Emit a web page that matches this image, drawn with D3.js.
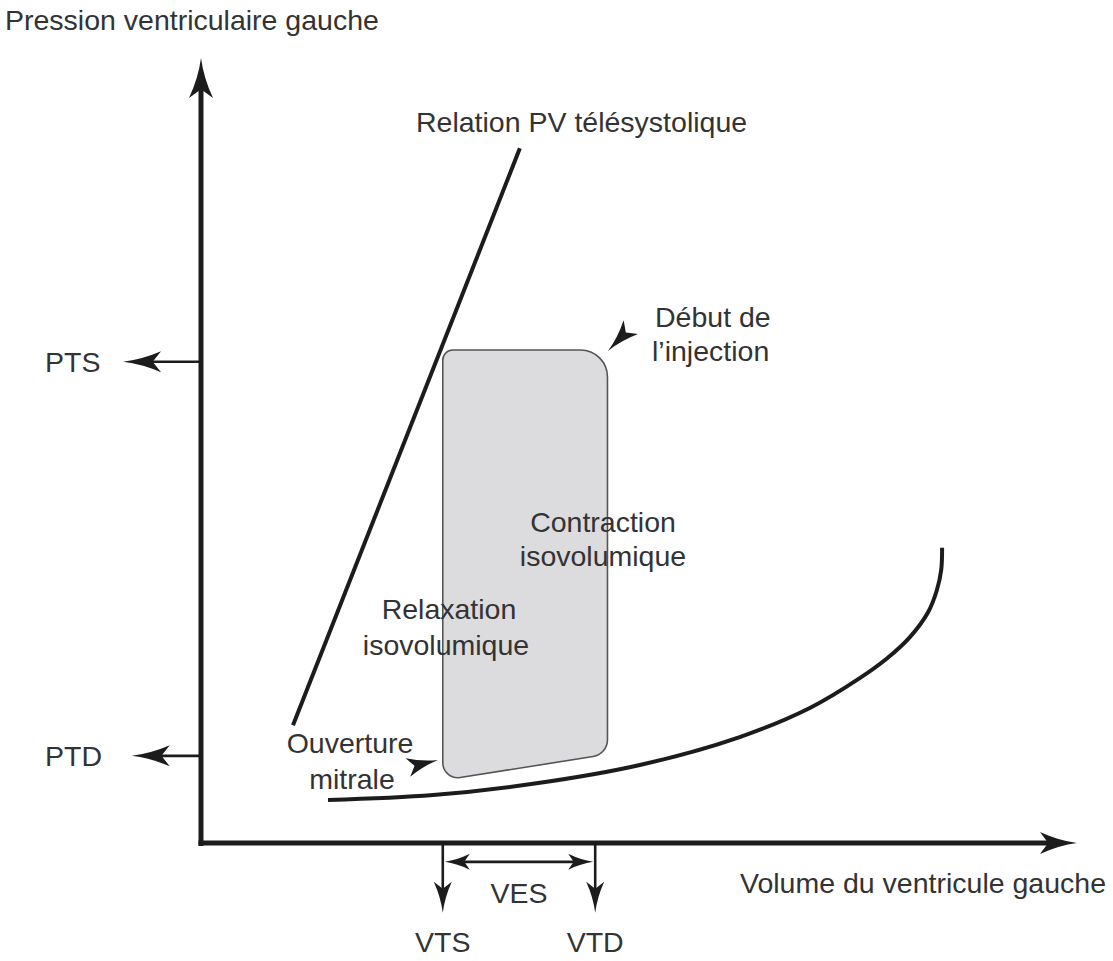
<!DOCTYPE html>
<html><head><meta charset="utf-8">
<script src="https://cdn.jsdelivr.net/npm/d3@7"></script>
<style>html,body{margin:0;padding:0;background:#fff;}svg{display:block;}</style>
</head><body>
<svg id="c" width="1113" height="961"></svg>
<script>
// ---- data (arbitrary units: volume 0..100, pressure 0..100) ----
const axisMax = {x: 100, y: 100};
// End-systolic pressure-volume relation (straight line)
const espvr = [[10.5, 15.0], [36.4, 88.5]];
// End-diastolic pressure-volume relation (curve)
const edpvrVol  = [14.5, 26.5, 38.5, 50.1, 61.5, 69.5, 75.2, 78.4, 80.9, 83.0, 84.0, 84.5, 84.6];
const edpvrPres = [5.48, 6.11, 7.64, 9.94, 13.5, 17.2, 21.0, 23.6, 26.2, 29.4, 32.2, 34.8, 37.6];
// Pressure-volume loop corners: top-left, top-right, bottom-right, bottom-left
const loopVol  = [27.6, 46.4, 46.4, 27.6];
const loopPres = [62.8, 62.8, 11.3, 8.0];
// Marked values
const pressureMarks = [{label: "PTS", y: 61.3, tip: -8.9}, {label: "PTD", y: 11.1, tip: -7.9}];
const volumeMarks = [{label: "VTS", x: 27.6}, {label: "VTD", x: 45.0}];
const vesY = -2.4, volTip = -8.9;

const x = d3.scaleLinear().domain([0, axisMax.x]).range([201, 1077]);
const y = d3.scaleLinear().domain([0, axisMax.y]).range([843, 58]);

const svg = d3.select("#c");
const ink = "#1c1c1c", txt = "#333";
const font = "'Liberation Sans', Arial, Helvetica, sans-serif";
const fs = 28.5;

function arrowHead(g, tx, ty, ang, L, Wd) {
  const p = d3.path();
  p.moveTo(0, 0);
  p.quadraticCurveTo(-0.5 * L, -0.22 * Wd, -L, -Wd);
  p.lineTo(-0.78 * L, 0);
  p.lineTo(-L, Wd);
  p.quadraticCurveTo(-0.5 * L, 0.22 * Wd, 0, 0);
  p.closePath();
  g.append("path").attr("d", p.toString())
    .attr("transform", `translate(${tx},${ty}) rotate(${ang * 180 / Math.PI})`)
    .attr("fill", ink);
}
function arrow(g, x1, y1, x2, y2, sw, L, Wd, both) {
  const ang = Math.atan2(y2 - y1, x2 - x1);
  const nx = x2 - Math.cos(ang) * (0.78 * L - 2), ny = y2 - Math.sin(ang) * (0.78 * L - 2);
  let sx = x1, sy = y1;
  if (both) { sx = x1 + Math.cos(ang) * (0.78 * L - 2); sy = y1 + Math.sin(ang) * (0.78 * L - 2); }
  g.append("line").attr("x1", sx).attr("y1", sy).attr("x2", nx).attr("y2", ny)
    .attr("stroke", ink).attr("stroke-width", sw);
  arrowHead(g, x2, y2, ang, L, Wd);
  if (both) arrowHead(g, x1, y1, ang + Math.PI, L, Wd);
}

const g = svg.append("g");

// loop (rounded corners)
const radii = [10, 27, 17, 15];
const pts = loopVol.map((v, i) => [x(v), y(loopPres[i])]);
const lp = d3.path();
const n = pts.length;
const m0 = [(pts[n - 1][0] + pts[0][0]) / 2, (pts[n - 1][1] + pts[0][1]) / 2];
lp.moveTo(m0[0], m0[1]);
for (let i = 0; i < n; i++) {
  const c = pts[i], nx = pts[(i + 1) % n];
  lp.arcTo(c[0], c[1], nx[0], nx[1], radii[i]);
}
lp.closePath();
g.append("path").attr("d", lp.toString()).attr("fill", "#dcdcde")
  .attr("stroke", "#555").attr("stroke-width", 1.6);

// ESPVR line
g.append("line").attr("x1", x(espvr[0][0])).attr("y1", y(espvr[0][1]))
  .attr("x2", x(espvr[1][0])).attr("y2", y(espvr[1][1]))
  .attr("stroke", ink).attr("stroke-width", 4);

// EDPVR curve
const line = d3.line().x(d => x(d[0])).y(d => y(d[1])).curve(d3.curveCatmullRom.alpha(0.5));
g.append("path").attr("d", line(edpvrVol.map((v, i) => [v, edpvrPres[i]])))
  .attr("fill", "none").attr("stroke", ink).attr("stroke-width", 4);

// axes
arrow(g, x(0), y(0) + 3, x(0), y(axisMax.y), 5, 40, 12);
arrow(g, x(0) - 2.5, y(0), x(axisMax.x), y(0), 5, 37, 11);

// pressure marks
pressureMarks.forEach(d => {
  arrow(g, x(0), y(d.y), x(d.tip), y(d.y), 2.6, 38, 10.5);
  g.append("text").attr("x", 45).attr("y", y(d.y) + 10).text(d.label);
});
// volume marks
volumeMarks.forEach(d => {
  arrow(g, x(d.x), y(0), x(d.x), y(volTip), 2.6, 31, 9);
  g.append("text").attr("x", x(d.x)).attr("y", 952).attr("text-anchor", "middle").text(d.label);
});
// VES double arrow
arrow(g, x(volumeMarks[0].x) + 2, y(vesY), x(volumeMarks[1].x) - 2, y(vesY), 2.6, 25, 8, true);
g.append("text").attr("x", (x(volumeMarks[0].x) + x(volumeMarks[1].x)) / 2).attr("y", 903)
  .attr("text-anchor", "middle").text("VES");

// annotation arrowheads
arrowHead(g, 608, 351, Math.atan2(351 - 326, 608 - 632), 33, 10);
arrowHead(g, 438, 760, Math.atan2(760 - 767, 438 - 410), 31, 9.5);

// labels
const labels = [
  {t: "Pression ventriculaire gauche", x: 5, y: 30, a: "start"},
  {t: "Relation PV télésystolique", x: 416, y: 132, a: "start"},
  {t: "Début de", x: 655, y: 327, a: "start"},
  {t: "l’injection", x: 652, y: 361, a: "start"},
  {t: "Contraction", x: 603, y: 532, a: "middle"},
  {t: "isovolumique", x: 603, y: 566, a: "middle"},
  {t: "Relaxation", x: 449, y: 619, a: "middle"},
  {t: "isovolumique", x: 446, y: 655, a: "middle"},
  {t: "Ouverture", x: 350, y: 753, a: "middle"},
  {t: "mitrale", x: 352, y: 789, a: "middle"},
  {t: "Volume du ventricule gauche", x: 1106, y: 893, a: "end"}
];
labels.forEach(d => g.append("text").attr("x", d.x).attr("y", d.y).attr("text-anchor", d.a).text(d.t));

g.selectAll("text").attr("font-family", font).attr("font-size", fs).attr("fill", txt);
</script>
</body></html>
